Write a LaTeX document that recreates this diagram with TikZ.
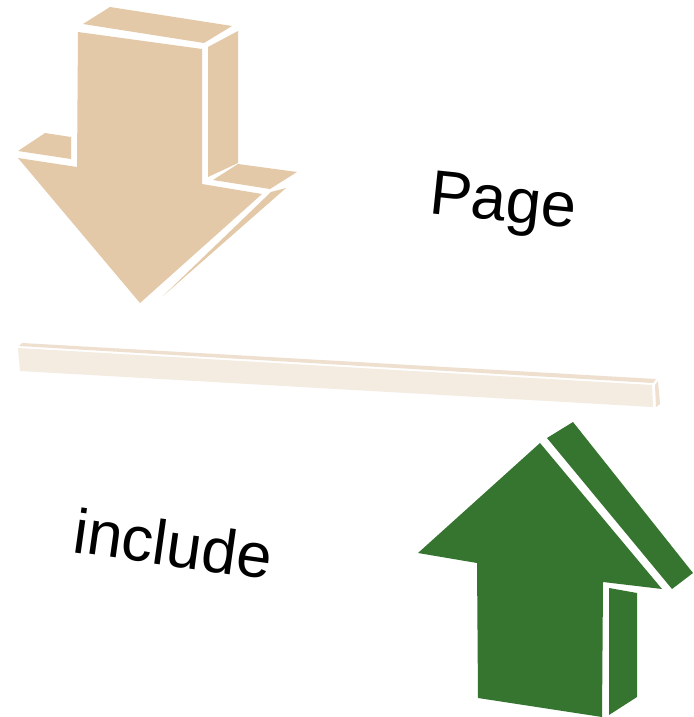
\documentclass[tikz,border=0pt]{standalone}
\usepackage{fontspec}
\setmainfont{Liberation Sans}
\definecolor{tan}{HTML}{E3C9A8}
\definecolor{grn}{HTML}{36752F}
\definecolor{barc}{HTML}{F4EBE1}
\definecolor{baredge}{HTML}{EEDFCF}
\begin{document}
\begin{tikzpicture}[x=1pt,y=-1pt,
  tanface/.style={fill=tan},
  grnface/.style={fill=grn},
  barface/.style={fill=barc},
  lbl/.style={font=\fontsize{63}{63}\selectfont, inner sep=0pt, anchor=base west}]
\useasboundingbox (0,0) rectangle (693,717);
\fill[white] (0,0) rectangle (693,717);
% down arrow
\fill[tanface] (78,32) -- (202,49) -- (202,184) -- (262,194) -- (140,303) -- (18,158) -- (77,167) -- cycle;
\fill[tanface] (83,24) -- (110,7) -- (232,26) -- (204,43) -- cycle;
\fill[tanface] (208,47) -- (238,31) -- (238,163) -- (208,177) -- cycle;
\fill[tanface] (18,151) -- (45,133) -- (71,137) -- (71,159) -- cycle;
\fill[tanface] (213,180) -- (238,164) -- (297,172) -- (270,189) -- cycle;
\fill[tanface] (271,192) -- (286,188) -- (163,296) -- cycle;
% bar
\fill[barface] (18,348) -- (20,371) -- (653,407) -- (652,385) -- cycle;
\fill[baredge] (19,346) -- (22,343) -- (656,379) -- (653,383) -- cycle;
\fill[baredge] (655,385) -- (658,381) -- (660,404) -- (656,407) -- cycle;
% up arrow
\fill[grnface] (540,443) -- (662,589) -- (603,582) -- (602,717) -- (478,698) -- (477,563) -- (418,553) -- cycle;
\fill[grnface] (547,438) -- (573,422) -- (693,573) -- (672,589) -- cycle;
\fill[grnface] (609,588) -- (637,593) -- (637,697) -- (609,715) -- cycle;
% labels
\node[lbl, rotate=-6] (page) at (428,213) {Page};
\node[lbl, rotate=-8] (incl) at (71,552) {include};
\end{tikzpicture}
\end{document}
